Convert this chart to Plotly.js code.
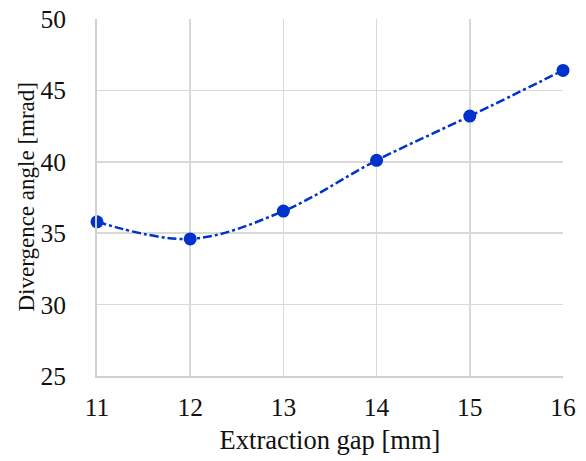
<!DOCTYPE html>
<html>
<head>
<meta charset="utf-8">
<script src="https://cdn.plot.ly/plotly-3.0.1.min.js"></script>
<style>html,body{margin:0;padding:0;background:#fff;}#chart{width:586px;height:461px;}</style>
</head>
<body>
<div id="chart"></div>
<script>
const gap = [11, 12, 13, 14, 15, 16];
const divergence = [35.8, 34.6, 36.55, 40.1, 43.2, 46.4];
const xTicks = [11, 12, 13, 14, 15, 16];
const yTicks = [25, 30, 35, 40, 45, 50];
const xTitle = 'Extraction gap [mm]';
const yTitle = 'Divergence angle [mrad]';

const trace = {
  x: gap, y: divergence, type: 'scatter', mode: 'lines+markers',
  line: {color: '#0033cc', width: 2.5, dash: 'dashdot', shape: 'spline', smoothing: 1},
  marker: {color: '#0033cc', size: 13},
  cliponaxis: false, showlegend: false
};
const fam = 'Liberation Serif, Times New Roman, serif';
const tickFont = {family: fam, size: 25.5, color: '#111'};
const xTitleFont = {family: fam, size: 26.5, color: '#111'};
const yTitleFont = {family: fam, size: 23, color: '#111'};
const layout = {
  width: 586, height: 461,
  margin: {l: 97, r: 23, t: 19, b: 85},
  paper_bgcolor: '#fff', plot_bgcolor: '#fff',
  font: tickFont,
  xaxis: {
    range: [11, 16], tickvals: xTicks, ticktext: xTicks.map(String), tickfont: tickFont,
    showgrid: true, gridcolor: '#d9d9d9', gridwidth: 1.5,
    showline: true, linecolor: '#d0d0d0', linewidth: 2,
    zeroline: false, ticks: '', ticklabelstandoff: 7,
    title: {text: xTitle, font: xTitleFont, standoff: 10}
  },
  yaxis: {
    range: [25, 50], tickvals: yTicks, ticktext: yTicks.map(String), tickfont: tickFont,
    showgrid: true, gridcolor: '#d9d9d9', gridwidth: 1.5,
    showline: true, linecolor: '#d0d0d0', linewidth: 2,
    zeroline: false, ticks: '', ticklabelstandoff: 24
  },
  annotations: [{
    text: yTitle, font: yTitleFont, textangle: -90, showarrow: false,
    xref: 'paper', yref: 'paper', x: 0, y: 0.5, xanchor: 'center', yanchor: 'middle',
    xshift: -71
  }]
};
Plotly.newPlot('chart', [trace], layout, {displayModeBar: false, staticPlot: true});
</script>
</body>
</html>
